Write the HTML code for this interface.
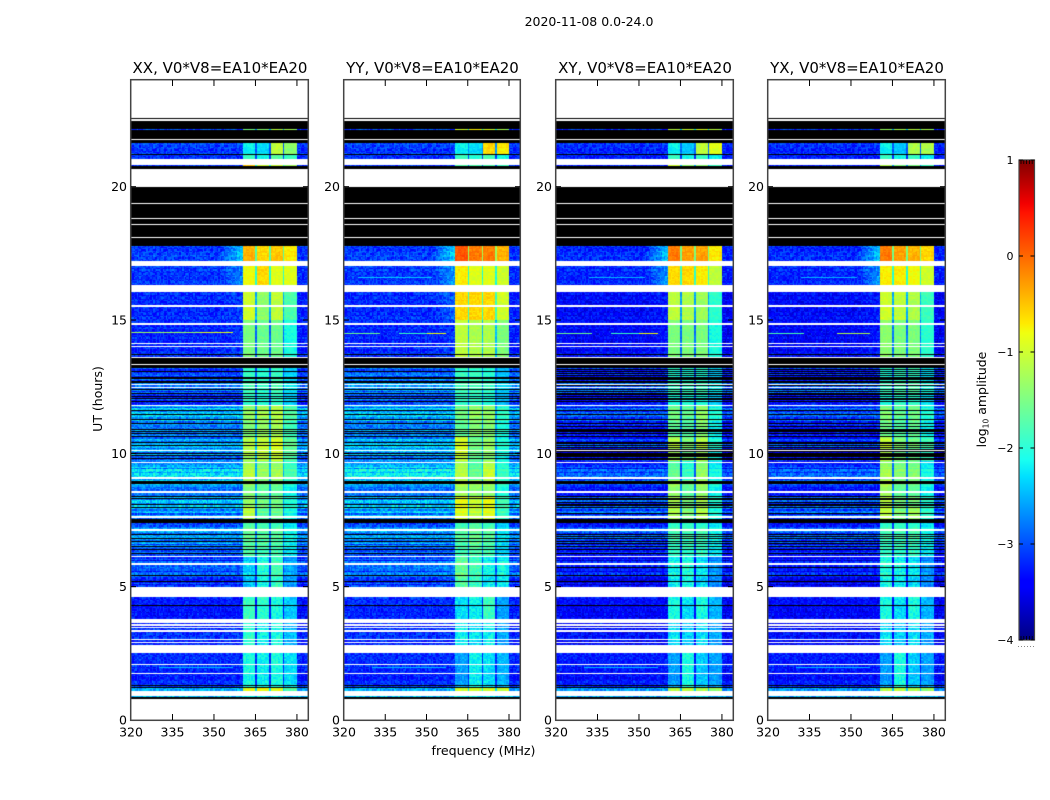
<!DOCTYPE html>
<html>
<head>
<meta charset="utf-8">
<title>2020-11-08 spectrogram</title>
<style>
html,body{margin:0;padding:0;background:#fff;}
#chart{position:relative;width:1050px;height:800px;overflow:hidden;background:#fff;font-family:"DejaVu Sans","Liberation Sans",sans-serif;}
canvas{position:absolute;display:block;}
svg{position:absolute;left:0;top:0;}
text{font-family:"DejaVu Sans","Liberation Sans",sans-serif;fill:#000;}
</style>
</head>
<body>
<div id="chart">
<svg id="overlay" width="1050" height="800">
  <defs>
    <linearGradient id="jet" x1="0" y1="1" x2="0" y2="0">
      <stop offset="0" stop-color="#000080"/>
      <stop offset="0.11" stop-color="#0000ff"/>
      <stop offset="0.125" stop-color="#0000ff"/>
      <stop offset="0.34" stop-color="#00dfff"/>
      <stop offset="0.375" stop-color="#19fff0"/>
      <stop offset="0.64" stop-color="#f0ff0f"/>
      <stop offset="0.66" stop-color="#ffea00"/>
      <stop offset="0.89" stop-color="#ff1300"/>
      <stop offset="0.91" stop-color="#f20000"/>
      <stop offset="1" stop-color="#800000"/>
    </linearGradient>
  </defs>
  <text x="589" y="26" font-size="12.5" text-anchor="middle">2020-11-08 0.0-24.0</text>
  <text x="483.5" y="755" font-size="12.6" text-anchor="middle">frequency (MHz)</text>
  <text transform="translate(102,399) rotate(-90)" font-size="12.5" text-anchor="middle">UT (hours)</text>
  <rect x="1019" y="160" width="15.5" height="480" fill="url(#jet)" stroke="#444" stroke-width="1.2"/>
  <text transform="translate(986,399.5) rotate(-90)" font-size="12.5" text-anchor="middle">log<tspan font-size="7.5" dy="2.5">10</tspan><tspan dy="-2.5"> amplitude</tspan></text>
  <line x1="1018" y1="646.5" x2="1035" y2="646.5" stroke="#888" stroke-width="1" stroke-dasharray="1,2"/>
</svg>
</div>
<script>
// ---------- chart data (hours, MHz, log10 amplitude) ----------
const panelTitles = ["XX, V0*V8=EA10*EA20", "YY, V0*V8=EA10*EA20", "XY, V0*V8=EA10*EA20", "YX, V0*V8=EA10*EA20"];
const xTickValues = [320, 335, 350, 365, 380];
const yTickValues = [0, 5, 10, 15, 20];
const colorbarTickValues = [1, 0, -1, -2, -3, -4];
// spectral-window edges in MHz: [start, end] of the four bright windows
const windowEdges = [[360.5, 365.0], [365.5, 370.0], [370.5, 375.0], [375.5, 380.0]];

// white (no data) time ranges, hours [from, to]
const noDataRows = [[22.56,24],[22.48,22.52],[21.75,21.79],[20.81,21.04],[20.0,20.66],[19.35,19.39],[18.79,18.83],[18.56,18.6],[18.08,18.11],[17.18,17.21],[17.03,17.14],[16.05,16.28],[15.54,15.58],[15.49,15.53],[14.83,14.87],[14.1,14.14],[14.0,14.04],[13.31,13.35],[12.56,12.6],[12.45,12.49],[11.77,11.81],[10.1,10.14],[9.64,9.68],[9.02,9.11],[8.53,8.59],[7.58,7.65],[7.09,7.16],[6.11,6.15],[5.83,5.89],[4.61,4.99],[3.64,3.79],[3.54,3.6],[3.45,3.5],[3.3,3.38],[3.0,3.04],[2.87,2.91],[2.51,2.78],[2.06,2.1],[1.73,1.76],[0.9,1.09],[0,0.79]];
// black (flagged) ranges common to all panels
const flaggedBands = [[22.52,22.56],[22.16,22.48],[21.79,22.13],[21.64,21.75],[21.19,21.22],[20.66,20.78],[17.78,20.0],[13.71,13.74],[13.35,13.59],[13.24,13.31],[8.85,8.96],[7.38,7.53],[1.28,1.31],[1.2,1.24],[0.79,0.85]];
// single flagged integrations, all panels
const flaggedLines = [13.21,13.06,12.85,12.78,12.69,12.63,12.38,12.23,12.12,12.04,11.94,11.6,11.44,11.25,11.09,10.88,10.81,10.75,10.62,10.38,10.29,10.0,9.91,9.81,8.37,8.28,8.06,7.94,6.94,6.81,6.69,6.5,6.38,6.25,5.41,5.19,4.3];
// additional flagged integrations on the cross hands
const flaggedLinesCross = [13.12,13.0,12.9,12.74,12.55,12.32,12.2,12.0,10.99,10.84,10.34,10.22,10.13,10.05,9.95,9.87,9.77,8.25,8.14,8.03,7.75,6.88,6.6,5.7];

// band rows: [from, to, background, shoulder, window1, window2, window3, window4]
const bandsXX = [
 [22.1,22.2,-3.1,-3.1,-1.5,-1.5,-1.2,-1.3],[21.22,21.64,-3.1,-3.1,-2.2,-2.3,-1.1,-1.4],[21.04,21.19,-3.1,-3.1,-1.9,-2.1,-1.7,-1.9],[20.75,20.85,-3.1,-3.1,-0.5,-1.0,-1.0,-1.3],
 [17.18,17.78,-3.1,-2.4,-0.4,-0.6,-0.5,-0.7],[16.28,17.14,-3.1,-2.7,-0.8,-0.6,-0.9,-0.9],[15.0,16.05,-3.2,-3.1,-1.0,-1.4,-1.1,-1.8],[13.59,15.0,-3.2,-3.1,-1.5,-1.6,-1.6,-2.1],
 [13.24,13.31,-3.0,-3.0,-1.8,-1.9,-1.8,-2.2],[11.8,13.24,-3.0,-3.0,-1.9,-2.0,-1.9,-2.3],[10.6,11.8,-2.6,-2.6,-1.4,-1.3,-1.2,-1.8],[9.7,10.6,-2.7,-2.7,-1.2,-1.1,-1.0,-1.7],[9.0,9.7,-2.5,-2.5,-1.2,-1.4,-1.3,-1.9],
 [8.0,9.0,-2.6,-2.6,-1.4,-1.6,-1.6,-2.1],[7.5,8.0,-2.7,-2.7,-1.1,-1.7,-1.6,-2.1],[6.1,7.5,-2.8,-2.8,-1.7,-1.8,-1.8,-2.2],[5.0,6.1,-3.1,-3.1,-2.4,-2.1,-1.9,-2.6],[3.8,4.61,-3.3,-3.3,-1.9,-2.0,-2.1,-2.4],[2.78,3.8,-3.2,-3.2,-2.0,-2.2,-2.1,-2.5],
 [1.24,2.51,-3.2,-3.2,-2.1,-2.2,-2.1,-2.3],[1.09,1.24,-2.6,-2.6,-0.9,-0.9,-0.9,-1.8],[0.83,0.9,-2.5,-2.5,-2.2,-2.2,-2.2,-2.4]
];
const bandsYY = [
 [22.1,22.2,-3.1,-3.1,-1.0,-0.8,-1.0,-1.3],[21.22,21.64,-3.1,-3.1,-2.2,-2.3,-0.6,-0.7],[21.04,21.19,-3.1,-3.1,-1.9,-2.0,-1.8,-2.1],[20.75,20.85,-3.1,-3.1,-1.8,-1.8,-1.8,-1.9],
 [17.18,17.78,-3.1,-2.3,0.1,-0.1,-0.1,-0.4],[16.28,17.14,-3.1,-2.6,-0.7,-0.9,-0.9,-1.0],[15.0,16.05,-3.2,-2.9,-0.6,-0.6,-0.6,-1.0],[13.59,15.0,-3.2,-3.1,-1.1,-1.2,-1.2,-1.5],
 [13.24,13.31,-3.0,-3.0,-1.8,-1.9,-1.8,-2.2],[11.8,13.24,-2.8,-2.8,-1.9,-1.9,-2.0,-2.4],[10.6,11.8,-2.6,-2.6,-1.6,-1.4,-1.4,-2.0],[9.7,10.6,-2.6,-2.6,-1.0,-1.6,-1.4,-2.1],[9.0,9.7,-2.4,-2.4,-1.2,-1.7,-1.1,-2.0],
 [8.4,9.0,-2.6,-2.6,-1.2,-1.3,-1.3,-2.0],[7.5,8.4,-2.6,-2.6,-0.9,-1.1,-0.9,-1.9],[6.1,7.5,-2.8,-2.8,-1.8,-1.7,-1.8,-2.3],[5.0,6.1,-3.0,-2.9,-1.7,-1.9,-2.2,-2.2],[3.8,4.61,-3.2,-3.2,-2.3,-2.2,-1.9,-2.6],[2.78,3.8,-3.2,-3.2,-2.2,-2.3,-2.2,-2.6],
 [1.24,2.51,-3.2,-3.2,-2.6,-2.2,-2.3,-2.5],[1.09,1.24,-2.6,-2.6,-1.0,-1.1,-1.0,-1.1],[0.83,0.9,-2.5,-2.5,-2.2,-2.2,-2.2,-2.4]
];
const bandsXY = [
 [22.1,22.2,-3.2,-3.2,-1.1,-1.1,-1.0,-1.2],[21.22,21.64,-3.2,-3.2,-2.2,-2.4,-1.1,-0.9],[21.04,21.19,-3.2,-3.2,-1.9,-2.1,-1.9,-2.2],[20.75,20.85,-3.2,-3.2,-1.0,-1.4,-1.4,-1.9],
 [17.18,17.78,-3.2,-2.4,-0.1,-0.3,-0.3,-0.7],[16.28,17.14,-3.2,-2.6,-0.6,-0.6,-0.7,-1.1],[15.0,16.05,-3.4,-3.3,-1.1,-1.2,-1.3,-2.0],[13.59,15.0,-3.4,-3.3,-1.5,-1.5,-1.5,-2.1],
 [13.24,13.31,-3.2,-3.2,-1.8,-1.9,-1.8,-2.2],[11.8,13.24,-3.1,-3.1,-2.0,-2.0,-2.0,-2.3],[10.6,11.8,-3.1,-3.1,-1.6,-1.7,-1.4,-2.1],[9.7,10.6,-3.2,-3.2,-1.2,-1.5,-1.2,-2.1],[9.0,9.7,-3.1,-3.1,-1.7,-2.0,-1.4,-2.2],
 [8.0,9.0,-3.1,-3.1,-1.3,-1.6,-1.3,-2.1],[7.5,8.0,-3.0,-3.0,-1.2,-1.5,-1.2,-2.1],[6.1,7.5,-3.1,-3.1,-1.9,-1.9,-1.9,-2.2],[5.0,6.1,-3.4,-3.4,-2.2,-2.1,-2.3,-2.7],[3.8,4.61,-3.4,-3.4,-2.1,-2.3,-2.1,-2.5],[2.78,3.8,-3.4,-3.4,-2.3,-2.4,-2.3,-2.6],
 [1.24,2.51,-3.3,-3.3,-2.6,-2.1,-2.4,-2.6],[1.09,1.24,-2.7,-2.7,-1.2,-1.2,-1.2,-1.4],[0.83,0.9,-2.6,-2.6,-2.3,-2.3,-2.3,-2.5]
];
const bandsYX = [
 [22.1,22.2,-3.2,-3.2,-1.3,-1.3,-1.2,-1.3],[21.22,21.64,-3.2,-3.2,-2.2,-2.4,-1.2,-1.2],[21.04,21.19,-3.2,-3.2,-1.9,-2.1,-1.9,-2.2],[20.75,20.85,-3.2,-3.2,-1.2,-1.5,-1.5,-1.9],
 [17.18,17.78,-3.2,-2.4,-0.1,-0.3,-0.4,-0.6],[16.28,17.14,-3.2,-2.6,-0.7,-0.7,-0.8,-1.0],[15.0,16.05,-3.4,-3.3,-1.0,-1.1,-1.2,-1.9],[13.59,15.0,-3.4,-3.3,-1.4,-1.5,-1.5,-2.0],
 [13.24,13.31,-3.2,-3.2,-1.8,-1.9,-1.8,-2.2],[11.8,13.24,-3.1,-3.1,-2.0,-1.9,-1.9,-2.2],[10.6,11.8,-3.1,-3.1,-1.5,-1.7,-1.6,-2.1],[9.7,10.6,-3.2,-3.2,-1.1,-1.5,-1.6,-1.9],[9.0,9.7,-3.1,-3.1,-1.3,-1.5,-1.5,-2.2],
 [8.0,9.0,-3.1,-3.1,-1.2,-1.6,-1.6,-2.1],[7.5,8.0,-3.0,-3.0,-1.1,-1.5,-1.3,-2.0],[6.1,7.5,-3.1,-3.1,-1.9,-1.9,-1.9,-2.2],[5.0,6.1,-3.4,-3.4,-2.1,-2.2,-2.3,-2.7],[3.8,4.61,-3.4,-3.4,-2.1,-2.3,-2.1,-2.5],[2.78,3.8,-3.4,-3.4,-2.3,-2.4,-2.3,-2.6],
 [1.24,2.51,-3.3,-3.3,-2.6,-2.1,-2.4,-2.6],[1.09,1.24,-2.7,-2.7,-1.2,-1.2,-1.2,-1.4],[0.83,0.9,-2.6,-2.6,-2.3,-2.3,-2.3,-2.5]
];
const panelBands = [bandsXX, bandsYY, bandsXY, bandsYX];
// interference streaks: [hour, fromMHz, toMHz, amplitude]
const rfiXX = [[14.55,320,345,-1.3],[14.55,345,357,-0.9],[14.89,340,357,-1.5],[1.97,330,357,-2.5]];
const rfiYY = [[14.53,320,333,-1.6],[14.53,340,350,-1.9],[14.53,350,357,-0.8],[14.89,350,357,-0.9],[16.6,325,352,-2.4],[1.97,330,357,-2.5]];
const rfiXY = [[14.53,320,333,-1.6],[14.53,340,350,-1.9],[14.53,350,357,-0.8],[14.89,345,357,-0.9],[16.6,332,352,-2.5],[1.97,330,357,-2.5]];
const rfiYX = [[14.53,320,333,-1.8],[14.53,345,357,-1.2],[14.89,345,357,-1.2],[16.6,332,352,-2.5],[1.97,330,357,-2.5]];
const panelRfi = [rfiXX, rfiYY, rfiXY, rfiYX];
// estimated speckle of the individual cells, log10 offsets read as typical scatter
const cellGrain = [0.12,-0.28,0.31,-0.07,0.22,-0.33,0.05,0.38,-0.19,0.09,-0.26,0.17,-0.11,0.42,-0.31,0.02,0.26,-0.15,-0.36,0.19,0.07,-0.23,0.34,-0.04,0.14,-0.3,0.28,-0.12,0.03,0.36,-0.21,-0.08,0.24,-0.34,0.11,0.18,-0.17,0.3,-0.27,0.06,-0.02];
const rowGrain = [0.18,-0.22,0.05,0.3,-0.14,-0.3,0.12,0.24,-0.06,-0.26,0.2,0.02,-0.18,0.28,-0.1,0.08,-0.28,0.16,0.26,-0.2,-0.04,0.22,-0.12];

// ---------- scales and layout ----------
const panelLeft = [131, 344, 556, 768];
const panelWidth = [177, 176, 177, 177];
const plotTop = 80, plotHeight = 640;
const freqMin = 320, freqMax = 384, hourMax = 24;
const channelMHz = 0.5, rowHours = 0.05;
function xScale(f, w) { return (f - freqMin) / (freqMax - freqMin) * w; }
function yScale(t) { return plotHeight - t / hourMax * plotHeight; }

function jetChannel(v, pts) {
  for (let i = 1; i < pts.length; i++) {
    if (v <= pts[i][0]) {
      const a = pts[i - 1], b = pts[i];
      return a[1] + (b[1] - a[1]) * (v - a[0]) / (b[0] - a[0]);
    }
  }
  return pts[pts.length - 1][1];
}
const jetR = [[0,0],[0.35,0],[0.66,1],[0.89,1],[1,0.5]];
const jetG = [[0,0],[0.125,0],[0.375,1],[0.64,1],[0.91,0],[1,0]];
const jetB = [[0,0.5],[0.11,1],[0.34,1],[0.65,0],[1,0]];
const lut = [];
for (let i = 0; i < 256; i++) {
  const n = i / 255;
  lut.push("rgb(" + Math.round(255 * jetChannel(n, jetR)) + "," + Math.round(255 * jetChannel(n, jetG)) + "," + Math.round(255 * jetChannel(n, jetB)) + ")");
}
function colorOf(v) {
  const n = Math.max(0, Math.min(1, (v + 4) / 5));
  return lut[Math.round(n * 255)];
}

function cellValue(band, f, row, col) {
  const bg = band[2], sh = band[3];
  const hour = row * rowHours;
  const lively = (hour > 5 && hour < 13.4) ? 1 : 0.25;
  const rowOff = rowGrain[(row * row + row * 3) % rowGrain.length] * lively;
  const grain = cellGrain[(col * col * 3 + row * row * 5 + col * row) % cellGrain.length];
  for (let w = 0; w < windowEdges.length; w++) {
    if (f >= windowEdges[w][0] && f < windowEdges[w][1]) {
      return band[4 + w] + grain * (hour < 7 ? 0.5 : 0.3) + rowOff * 0.4;
    }
  }
  if (f >= windowEdges[0][0] && f < windowEdges[3][1]) {
    const avg = (band[4] + band[5] + band[6] + band[7]) / 4;
    return Math.max(bg, avg - 1.2) + grain * 0.3;
  }
  let base = bg;
  if (f > 352 && f < windowEdges[0][0]) base = bg + (sh - bg) * (f - 352) / (windowEdges[0][0] - 352);
  if (f >= windowEdges[3][1]) base = bg - 0.05;
  return base + grain * 0.75 + rowOff;
}

const chart = document.getElementById("chart");
const svg = document.getElementById("overlay");
const NS = "http://www.w3.org/2000/svg";
function mk(tag, attrs) {
  const el = document.createElementNS(NS, tag);
  for (const k in attrs) el.setAttribute(k, attrs[k]);
  svg.appendChild(el);
  return el;
}

panelLeft.forEach(function (left, p) {
  const w = panelWidth[p];
  const canvas = document.createElement("canvas");
  
  
  canvas.width = w;
  canvas.height = plotHeight;
  canvas.style.left = left + "px";
  canvas.style.top = plotTop + "px";
  chart.insertBefore(canvas, svg);
  const ctx = canvas.getContext("2d");
  ctx.fillStyle = "#fff";
  ctx.fillRect(0, 0, w, plotHeight);

  const channels = Math.round((freqMax - freqMin) / channelMHz);
  const rows = Math.round(hourMax / rowHours);
  panelBands[p].forEach(function (band) {
    for (let r = 0; r < rows; r++) {
      const t0 = r * rowHours, tc = t0 + rowHours / 2;
      if (tc < band[0] || tc >= band[1]) continue;
      const yA = Math.round(yScale(t0 + rowHours)), yB = Math.round(yScale(t0));
      for (let c = 0; c < channels; c++) {
        const f0 = freqMin + c * channelMHz, f1 = f0 + channelMHz;
        const xA = Math.round(xScale(f0, w)), xB = Math.round(xScale(f1, w));
        ctx.fillStyle = colorOf(cellValue(band, f0 + channelMHz / 2, r, c));
        ctx.fillRect(xA, yA, xB - xA, yB - yA);
      }
    }
  });
  panelRfi[p].forEach(function (s) {
    const xA = Math.round(xScale(s[1], w)), xB = Math.round(xScale(s[2], w));
    ctx.fillStyle = colorOf(s[3]);
    ctx.fillRect(xA, Math.round(yScale(s[0])), xB - xA, 1);
  });
  function hBar(t0, t1, color) {
    const yA = Math.round(yScale(t1)), yB = Math.round(yScale(t0));
    ctx.fillStyle = color;
    ctx.fillRect(0, yA, w, Math.max(1, yB - yA));
  }
  flaggedBands.forEach(function (b) { hBar(b[0], b[1], "#000"); });
  flaggedLines.forEach(function (t) { hBar(t, t + 0.03, "#000"); });
  if (p >= 2) flaggedLinesCross.forEach(function (t) { hBar(t, t + 0.03, "#000"); });
  noDataRows.forEach(function (b) { hBar(b[0], b[1], "#fff"); });

  // frame
  const frame = mk("rect", { x: left - 0.3, y: plotTop - 0.3, width: w + 0.6, height: plotHeight + 0.6, fill: "none", stroke: "#444", "stroke-width": 1.5 });
  
  

  // title
  const title = mk("text", { x: left + w / 2 + 0.5, y: 73, "font-size": 15, "text-anchor": "middle" });
  
  
  title.textContent = panelTitles[p];

  // x ticks
  xTickValues.forEach(function (v) {
    const x = left + xScale(v, w);
    if (v !== freqMin) {
      const tb = mk("line", { x1: x, x2: x, y1: plotTop + plotHeight, y2: plotTop + plotHeight - 6, stroke: "#000", "stroke-width": 1 });
      
      
      const tt = mk("line", { x1: x, x2: x, y1: plotTop, y2: plotTop + 6, stroke: "#000", "stroke-width": 1 });
      
      
    }
    const label = mk("text", { x: x, y: 736.5, "font-size": 12.5, "text-anchor": "middle" });
    
    
    label.textContent = v;
  });

  // y ticks
  yTickValues.forEach(function (v) {
    const y = plotTop + yScale(v);
    if (v !== 0) {
      const tl = mk("line", { x1: left, x2: left + 5, y1: y, y2: y, stroke: "#000", "stroke-width": 1 });
      
      
      const tr = mk("line", { x1: left + w, x2: left + w - 5, y1: y, y2: y, stroke: "#000", "stroke-width": 1 });
      
      
    }
    const label = mk("text", { x: left - 4, y: y + 4.5, "font-size": 12.5, "text-anchor": "end" });
    
    
    label.textContent = v;
  });
});

// colorbar ticks
const cbTop = 160, cbHeight = 480, cbLeft = 1019, cbWidth = 15.5;
function cbScale(v) { return cbTop + (1 - v) / 5 * cbHeight; }
colorbarTickValues.forEach(function (v) {
  const y = cbScale(v);
  const a = mk("line", { x1: cbLeft, x2: cbLeft + 4, y1: y, y2: y, stroke: "#000", "stroke-width": 1 });
  
  
  const b = mk("line", { x1: cbLeft + cbWidth, x2: cbLeft + cbWidth - 4, y1: y, y2: y, stroke: "#000", "stroke-width": 1 });
  
  
  const label = mk("text", { x: 1013.5, y: y + 4, "font-size": 11, "text-anchor": "end" });
  
  
  label.textContent = v < 0 ? "\u2212" + Math.abs(v) : String(v);
});
[0, 1, 2, 3, 4].forEach(function (i) {
  const x = cbLeft + 2 + i * 2.8;
  const top = mk("line", { x1: x, x2: x, y1: cbTop, y2: cbTop + 4, stroke: "#000", "stroke-width": 0.8 });
  
  
  const bot = mk("line", { x1: x, x2: x, y1: cbTop + cbHeight, y2: cbTop + cbHeight - 4, stroke: "#000", "stroke-width": 0.8 });
  
  
});
</script>
</body>
</html>
